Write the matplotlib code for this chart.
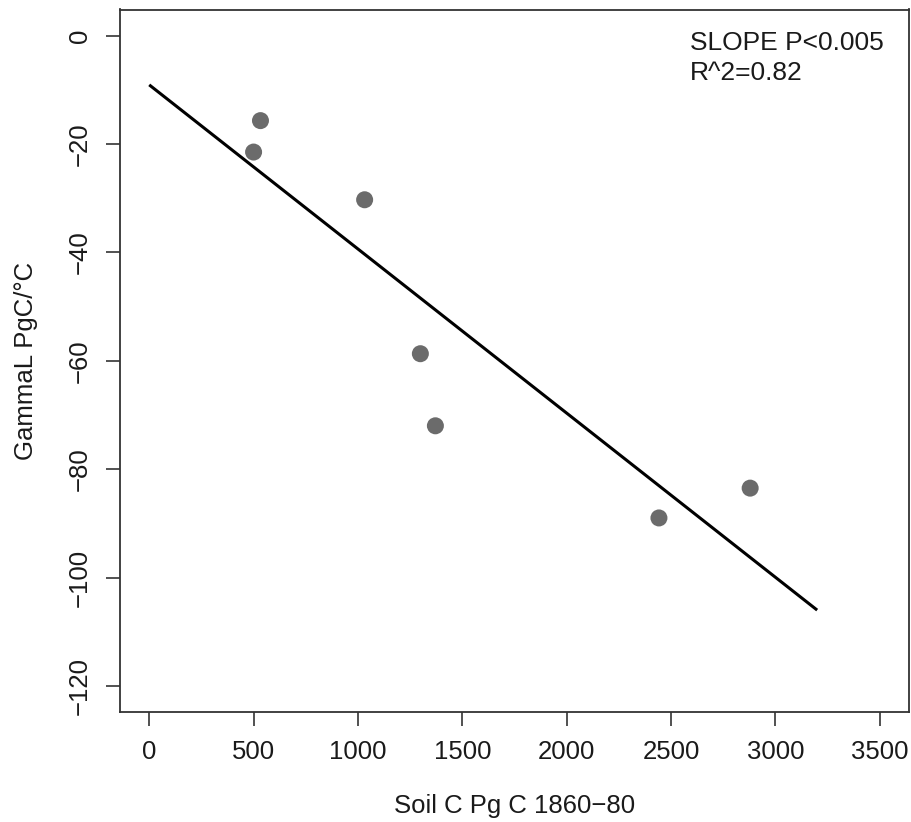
import matplotlib
matplotlib.use("Agg")
import matplotlib.pyplot as plt
import numpy as np

plt.rcParams['font.family'] = ['Liberation Sans', 'DejaVu Sans']

# soil carbon (Pg C, 1860-80) vs gamma L (PgC/°C), one point per model
soil_c = [500, 533, 1032, 1299, 1371, 2442, 2879]
gamma_l = [-21.5, -15.7, -30.3, -58.7, -72.0, -89.0, -83.5]

# regression line end points
fit_x = [0, 3200]
fit_y = [-9.1, -106.0]

x_ticks = [0, 500, 1000, 1500, 2000, 2500, 3000, 3500]
y_ticks = [0, -20, -40, -60, -80, -100, -120]

W, H = 912, 822
fig = plt.figure(figsize=(W / 100, H / 100), dpi=100)
ax = fig.add_axes([120/W, 1 - 712/H, (909 - 120)/W, (712 - 9.5)/H])

ax.plot(fit_x, fit_y, color='black', lw=2.2, solid_capstyle='butt')
ax.scatter(soil_c, gamma_l, s=150, color='#6b6b6b', edgecolors='none', zorder=3)

ax.set_xlim(-140, 3640)
ax.set_ylim(-124.8, 4.8)
ax.set_xticks(x_ticks)
ax.set_yticks(y_ticks)
ax.set_xticklabels([str(v) for v in x_ticks])
ax.set_yticklabels([str(v).replace('-', '\u2212') for v in y_ticks])

ax.tick_params(axis='both', labelsize=18.5, length=10, width=1.2,
               color='#333333', labelcolor='#1a1a1a')
ax.tick_params(axis='x', pad=10)
ax.tick_params(axis='y', pad=10, labelrotation=90)
for lab in ax.get_yticklabels():
    lab.set_va('center')

for sp in ax.spines.values():
    sp.set_linewidth(1.3)
    sp.set_color('#333333')

ax.annotate('SLOPE P<0.005\nR^2=0.82', xy=(690, H - 31), xycoords='figure pixels',
            fontsize=19, color='#1a1a1a', va='top', ha='left', linespacing=1.32)

ax.set_xlabel('Soil C Pg C 1860\u221280', fontsize=18.5, color='#1a1a1a', labelpad=22)
ax.set_ylabel('GammaL PgC/\u00b0C', fontsize=18.5, color='#1a1a1a', labelpad=22)

fig.savefig('out.png', dpi=100)
